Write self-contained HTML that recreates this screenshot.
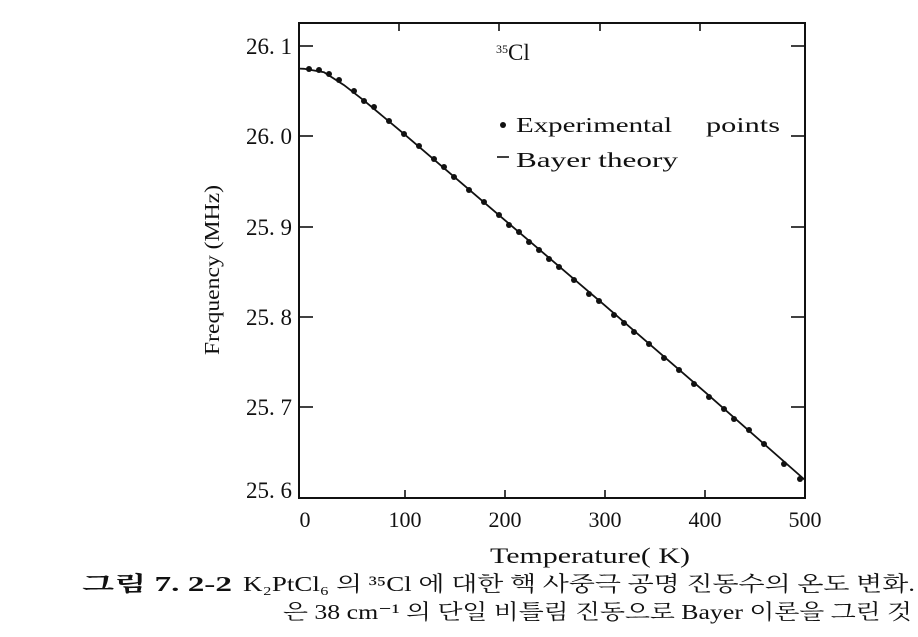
<!DOCTYPE html>
<html><head><meta charset="utf-8"><style>
html,body{margin:0;padding:0;background:#fff;}
svg{display:block;}
text{font-family:"Liberation Serif","Noto Serif CJK SC",serif;fill:#111;}
</style></head><body>
<svg width="918" height="637" viewBox="0 0 918 637" xmlns="http://www.w3.org/2000/svg">
<rect x="0" y="0" width="918" height="637" fill="#fff"/>
<rect x="299" y="23" width="506" height="475" fill="none" stroke="#111" stroke-width="2"/>
<g stroke="#111" stroke-width="1.6">
<line x1="299" y1="46" x2="313" y2="46"/><line x1="299" y1="136" x2="313" y2="136"/><line x1="299" y1="227" x2="313" y2="227"/><line x1="299" y1="317" x2="313" y2="317"/><line x1="299" y1="407" x2="313" y2="407"/>
<line x1="805" y1="46" x2="791" y2="46"/><line x1="805" y1="136" x2="791" y2="136"/><line x1="805" y1="227" x2="791" y2="227"/><line x1="805" y1="317" x2="791" y2="317"/><line x1="805" y1="407" x2="791" y2="407"/>
<line x1="405" y1="498" x2="405" y2="490"/><line x1="505" y1="498" x2="505" y2="490"/><line x1="605" y1="498" x2="605" y2="490"/><line x1="705" y1="498" x2="705" y2="490"/>
<line x1="399" y1="23" x2="399" y2="31"/><line x1="499" y1="23" x2="499" y2="31"/><line x1="600" y1="23" x2="600" y2="31"/><line x1="700" y1="23" x2="700" y2="31"/>
</g>
<g font-size="23" text-anchor="end">
<text x="292" y="54">26. 1</text><text x="292" y="144">26. 0</text><text x="292" y="235">25. 9</text><text x="292" y="325">25. 8</text><text x="292" y="415">25. 7</text><text x="292" y="498">25. 6</text>
</g>
<g font-size="22" text-anchor="middle">
<text x="305" y="527">0</text><text x="405" y="527">100</text><text x="505" y="527">200</text><text x="605" y="527">300</text><text x="705" y="527">400</text><text x="805" y="527">500</text>
</g>
<text x="490" y="563" font-size="22" textLength="200" lengthAdjust="spacingAndGlyphs">Temperature( K)</text>
<text transform="translate(219,355) rotate(-90)" font-size="21" textLength="170" lengthAdjust="spacingAndGlyphs">Frequency (MHz)</text>
<text x="496" y="53" font-size="12">35</text><text x="508" y="60" font-size="23">Cl</text>
<circle cx="503" cy="125" r="3" fill="#111"/>
<text x="516" y="132" font-size="21" textLength="156" lengthAdjust="spacingAndGlyphs">Experimental</text>
<text x="706" y="132" font-size="21" textLength="74" lengthAdjust="spacingAndGlyphs">points</text>
<line x1="497" y1="157" x2="509" y2="157" stroke="#111" stroke-width="1.6"/>
<text x="516" y="167" font-size="21" textLength="162" lengthAdjust="spacingAndGlyphs">Bayer  theory</text>
<polyline fill="none" stroke="#111" stroke-width="1.8" points="300,68.6 304,68.8 324,72.2 344,85.1 364,100.6 404,133.9 504,219.4 605,305.6 705,392.1 805,480"/>
<g fill="#111">
<circle cx="309" cy="69" r="3"/><circle cx="319" cy="70" r="3"/><circle cx="329" cy="74" r="3"/><circle cx="339" cy="80" r="3"/><circle cx="354" cy="91" r="3"/><circle cx="364" cy="101" r="3"/><circle cx="374" cy="107" r="3"/><circle cx="389" cy="121" r="3"/><circle cx="404" cy="134" r="3"/><circle cx="419" cy="146" r="3"/><circle cx="434" cy="159" r="3"/><circle cx="444" cy="167" r="3"/><circle cx="454" cy="177" r="3"/><circle cx="469" cy="190" r="3"/><circle cx="484" cy="202" r="3"/><circle cx="499" cy="215" r="3"/><circle cx="509" cy="225" r="3"/><circle cx="519" cy="232" r="3"/><circle cx="529" cy="242" r="3"/><circle cx="539" cy="250" r="3"/><circle cx="549" cy="259" r="3"/><circle cx="559" cy="267" r="3"/><circle cx="574" cy="280" r="3"/><circle cx="589" cy="294" r="3"/><circle cx="599" cy="301" r="3"/><circle cx="614" cy="315" r="3"/><circle cx="624" cy="323" r="3"/><circle cx="634" cy="332" r="3"/><circle cx="649" cy="344" r="3"/><circle cx="664" cy="358" r="3"/><circle cx="679" cy="370" r="3"/><circle cx="694" cy="384" r="3"/><circle cx="709" cy="397" r="3"/><circle cx="724" cy="409" r="3"/><circle cx="734" cy="419" r="3"/><circle cx="749" cy="430" r="3"/><circle cx="764" cy="444" r="3"/><circle cx="784" cy="464" r="3"/><circle cx="800" cy="479" r="3"/>
</g>
<text x="82" y="591" font-size="21" font-weight="bold" textLength="150" lengthAdjust="spacingAndGlyphs" font-family="'Liberation Sans','Noto Sans CJK KR',sans-serif">그림 7. 2-2</text>
<text x="243" y="591" font-size="21" textLength="672" lengthAdjust="spacingAndGlyphs" font-family="'Liberation Serif','Noto Serif CJK KR','Noto Serif CJK SC',serif">K₂PtCl₆ 의 ³⁵Cl 에 대한 핵 사중극 공명 진동수의 온도 변화.</text>
<text x="283" y="619" font-size="21" textLength="629" lengthAdjust="spacingAndGlyphs" font-family="'Liberation Serif','Noto Serif CJK KR','Noto Serif CJK SC',serif">은 38 cm⁻¹ 의 단일 비틀림 진동으로 Bayer 이론을 그린 것</text>
</svg>
</body></html>
